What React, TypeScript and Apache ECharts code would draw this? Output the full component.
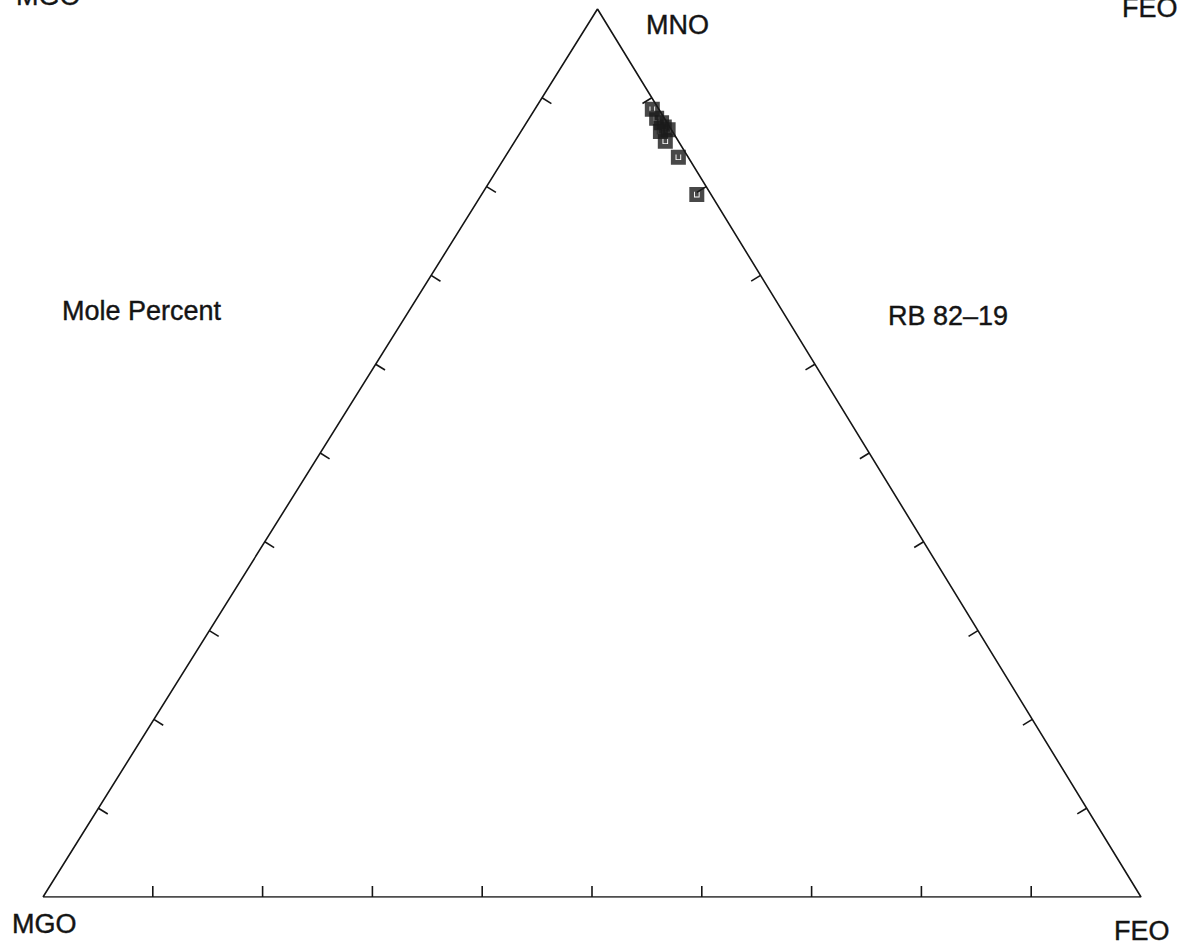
import React, { useEffect, useRef } from "react";
import * as echarts from "echarts";

// Ternary data (mole percent) for sample RB 82-19
const MNO_PCT = [88.7, 87.7, 87.2, 86.7, 86.4, 86.2, 85.1, 83.3, 79.1];
const FEO_PCT = [10.7, 11.6, 12.3, 12.8, 13.3, 12.7, 13.7, 15.8, 19.6];
const MGO_PCT = [0.6, 0.7, 0.5, 0.5, 0.3, 1.1, 1.2, 0.9, 1.3];

const TICK_VALUES = [10, 20, 30, 40, 50, 60, 70, 80, 90];
const VERTEX_LABELS = ["MGO", "FEO", "MNO"];
const SAMPLE_LABEL = "RB 82–19";
const UNIT_LABEL = "Mole Percent";

// layout constant: horizontal position of the apex (percent of base)
const APEX_X = 50.5;

function toXY(mgo: number, feo: number, mno: number): [number, number] {
  const s = mgo + feo + mno;
  const f = (feo / s) * 100;
  const m = (mno / s) * 100;
  return [f + (m * APEX_X) / 100, m];
}

export default function App() {
  const ref = useRef<HTMLDivElement>(null);

  useEffect(() => {
    document.body.style.margin = "0";
    if (!ref.current) return;
    const chart = echarts.init(ref.current, null, { renderer: "svg" });

    const vertices = [toXY(100, 0, 0), toXY(0, 100, 0), toXY(0, 0, 100)];
    const edgeData = [vertices[0], vertices[1], vertices[2], vertices[0]];

    const tickData: number[][] = [];
    for (let e = 0; e < 3; e++) {
      for (const t of TICK_VALUES) tickData.push([e, t]);
    }

    const points = MNO_PCT.map((m, i) => toXY(MGO_PCT[i], FEO_PCT[i], m));

    const font = "'Liberation Sans', Arial, Helvetica, sans-serif";
    const textStyle = (text: string, x: number, y: number) => ({
      type: "text",
      x,
      y,
      style: {
        text,
        fill: "#141414",
        font: `27px ${font}`,
        textAlign: "left",
        textVerticalAlign: "middle",
        stroke: "#141414",
        lineWidth: 0.4,
      },
    });

    chart.setOption({
      animation: false,
      backgroundColor: "#fff",
      grid: { left: 43, right: 38, top: 9, bottom: 49 },
      xAxis: { type: "value", min: 0, max: 100, show: false },
      yAxis: { type: "value", min: 0, max: 100, show: false },
      series: [
        {
          type: "line",
          data: edgeData,
          symbol: "none",
          lineStyle: { color: "#151515", width: 1.6 },
          silent: true,
        },
        {
          type: "custom",
          data: tickData,
          silent: true,
          renderItem: (params: any, api: any) => {
            const edge = api.value(0);
            const t = api.value(1);
            const A = api.coord(toXY(100, 0, 0));
            const B = api.coord(toXY(0, 100, 0));
            const C = api.coord(toXY(0, 0, 100));
            let base: number[];
            let E1: number[];
            let E2: number[];
            if (edge === 0) {
              base = api.coord(toXY(100 - t, t, 0));
              E1 = A;
              E2 = B;
            } else if (edge === 1) {
              base = api.coord(toXY(100 - t, 0, t));
              E1 = A;
              E2 = C;
            } else {
              base = api.coord(toXY(0, 100 - t, t));
              E1 = B;
              E2 = C;
            }
            const G = [(A[0] + B[0] + C[0]) / 3, (A[1] + B[1] + C[1]) / 3];
            let dx = E2[0] - E1[0];
            let dy = E2[1] - E1[1];
            const len = Math.hypot(dx, dy);
            dx /= len;
            dy /= len;
            let nx = -dy;
            let ny = dx;
            if (nx * (G[0] - base[0]) + ny * (G[1] - base[1]) < 0) {
              nx = -nx;
              ny = -ny;
            }
            const L = 11;
            return {
              type: "line",
              shape: { x1: base[0], y1: base[1], x2: base[0] + nx * L, y2: base[1] + ny * L },
              style: { stroke: "#151515", lineWidth: 1.6 },
            };
          },
        },
        {
          type: "scatter",
          data: points,
          symbol: "path://M0,0H16V16H0Z M5,5V11H11V5H10V10H6V5Z",
          symbolSize: 15,
          itemStyle: { color: "#1a1a1a" },
          z: 5,
        },
      ],
      graphic: [
        textStyle(VERTEX_LABELS[0], 16, -4),
        textStyle(VERTEX_LABELS[1], 1122, 8),
        textStyle(VERTEX_LABELS[2], 646, 25),
        textStyle(UNIT_LABEL, 62, 311),
        textStyle(SAMPLE_LABEL, 888, 316),
        textStyle(VERTEX_LABELS[0], 12, 924),
        textStyle(VERTEX_LABELS[1], 1114, 931),
      ],
    });

    return () => chart.dispose();
  }, []);

  return <div ref={ref} style={{ width: 1179, height: 946 }} />;
}
